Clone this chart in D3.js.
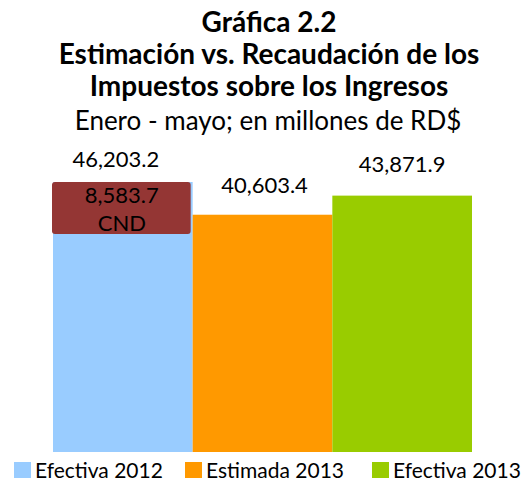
<!DOCTYPE html>
<html>
<head>
<meta charset="utf-8">
<script src="https://cdnjs.cloudflare.com/ajax/libs/d3/7.8.5/d3.min.js"></script>
<style>
  body { margin: 0; background: #fff; }
  text { font-family: Lato, "Open Sans", sans-serif; fill: #000; }
</style>
</head>
<body>
<script>
var categories = ["Efectiva 2012", "Estimada 2013", "Efectiva 2013"];
var values = [46203.2, 40603.4, 43871.9];
var colors = ["#99ccff", "#ff9900", "#99cc00"];
var cndValue = 8583.7;
var titleLines = ["Gráfica 2.2", "Estimación vs. Recaudación de los", "Impuestos sobre los Ingresos"];
var subtitle = "Enero - mayo; en millones de RD$";

var width = 528, height = 481;
var margin = {left: 53, right: 56, bottom: 29};
var plotTop = 182; // y of tallest bar

var fmt = d3.format(",.1f");

var svg = d3.select("body").append("svg")
	.attr("width", width)
	.attr("height", height);

var x = d3.scaleBand()
	.domain(categories)
	.range([margin.left, width - margin.right])
	.padding(0);

var y = d3.scaleLinear()
	.domain([0, d3.max(values)])
	.range([height - margin.bottom, plotTop]);

// titles
svg.selectAll(".title")
	.data(titleLines)
  .enter().append("text")
	.attr("class", "title")
	.attr("x", 269)
	.attr("y", function(d, i) { return 32 + i * 32; })
	.attr("text-anchor", "middle")
	.style("font-weight", "bold")
	.style("font-size", "28px")
	.text(function(d) { return d; });

svg.append("text")
	.attr("x", 268)
	.attr("y", 130)
	.attr("text-anchor", "middle")
	.style("font-size", "26px")
	.text(subtitle);

// bars
svg.selectAll(".bar")
	.data(values)
  .enter().append("rect")
	.attr("class", "bar")
	.attr("x", function(d, i) { return x(categories[i]); })
	.attr("y", function(d) { return y(d); })
	.attr("width", x.bandwidth())
	.attr("height", function(d) { return y(0) - y(d); })
	.style("fill", function(d, i) { return colors[i]; });

// value labels
var labelDx = [-7, 2, 0];
var labelDy = [-15, -22, -24];
svg.selectAll(".val")
	.data(values)
  .enter().append("text")
	.attr("class", "val")
	.attr("x", function(d, i) { return x(categories[i]) + x.bandwidth() / 2 + labelDx[i]; })
	.attr("y", function(d, i) { return y(d) + labelDy[i]; })
	.attr("text-anchor", "middle")
	.style("font-size", "22px")
	.text(function(d) { return fmt(d); });

// CND box on first bar
var bx = x(categories[0]);
svg.append("rect")
	.attr("x", bx - 1)
	.attr("y", y(values[0]))
	.attr("width", x.bandwidth() - 1)
	.attr("height", 52)
	.attr("rx", 3)
	.style("fill", "#943634");

svg.append("text")
	.attr("x", bx + x.bandwidth() / 2 - 1)
	.attr("y", y(values[0]) + 21)
	.attr("text-anchor", "middle")
	.style("font-size", "22px")
	.text(fmt(cndValue));

svg.append("text")
	.attr("x", bx + x.bandwidth() / 2 - 1)
	.attr("y", y(values[0]) + 49)
	.attr("text-anchor", "middle")
	.style("font-size", "22px")
	.text("CND");

// legend
var legendX = [14, 185, 372];
var legend = svg.selectAll(".legend")
	.data(categories)
  .enter().append("g")
	.attr("class", "legend")
	.attr("transform", function(d, i) { return "translate(" + legendX[i] + ",462)"; });

legend.append("rect")
	.attr("width", 17)
	.attr("height", 16)
	.style("fill", function(d, i) { return colors[i]; });

legend.append("text")
	.attr("x", 21)
	.attr("y", 16)
	.style("font-size", "21px")
	.text(function(d) { return d; });
</script>
</body>
</html>
